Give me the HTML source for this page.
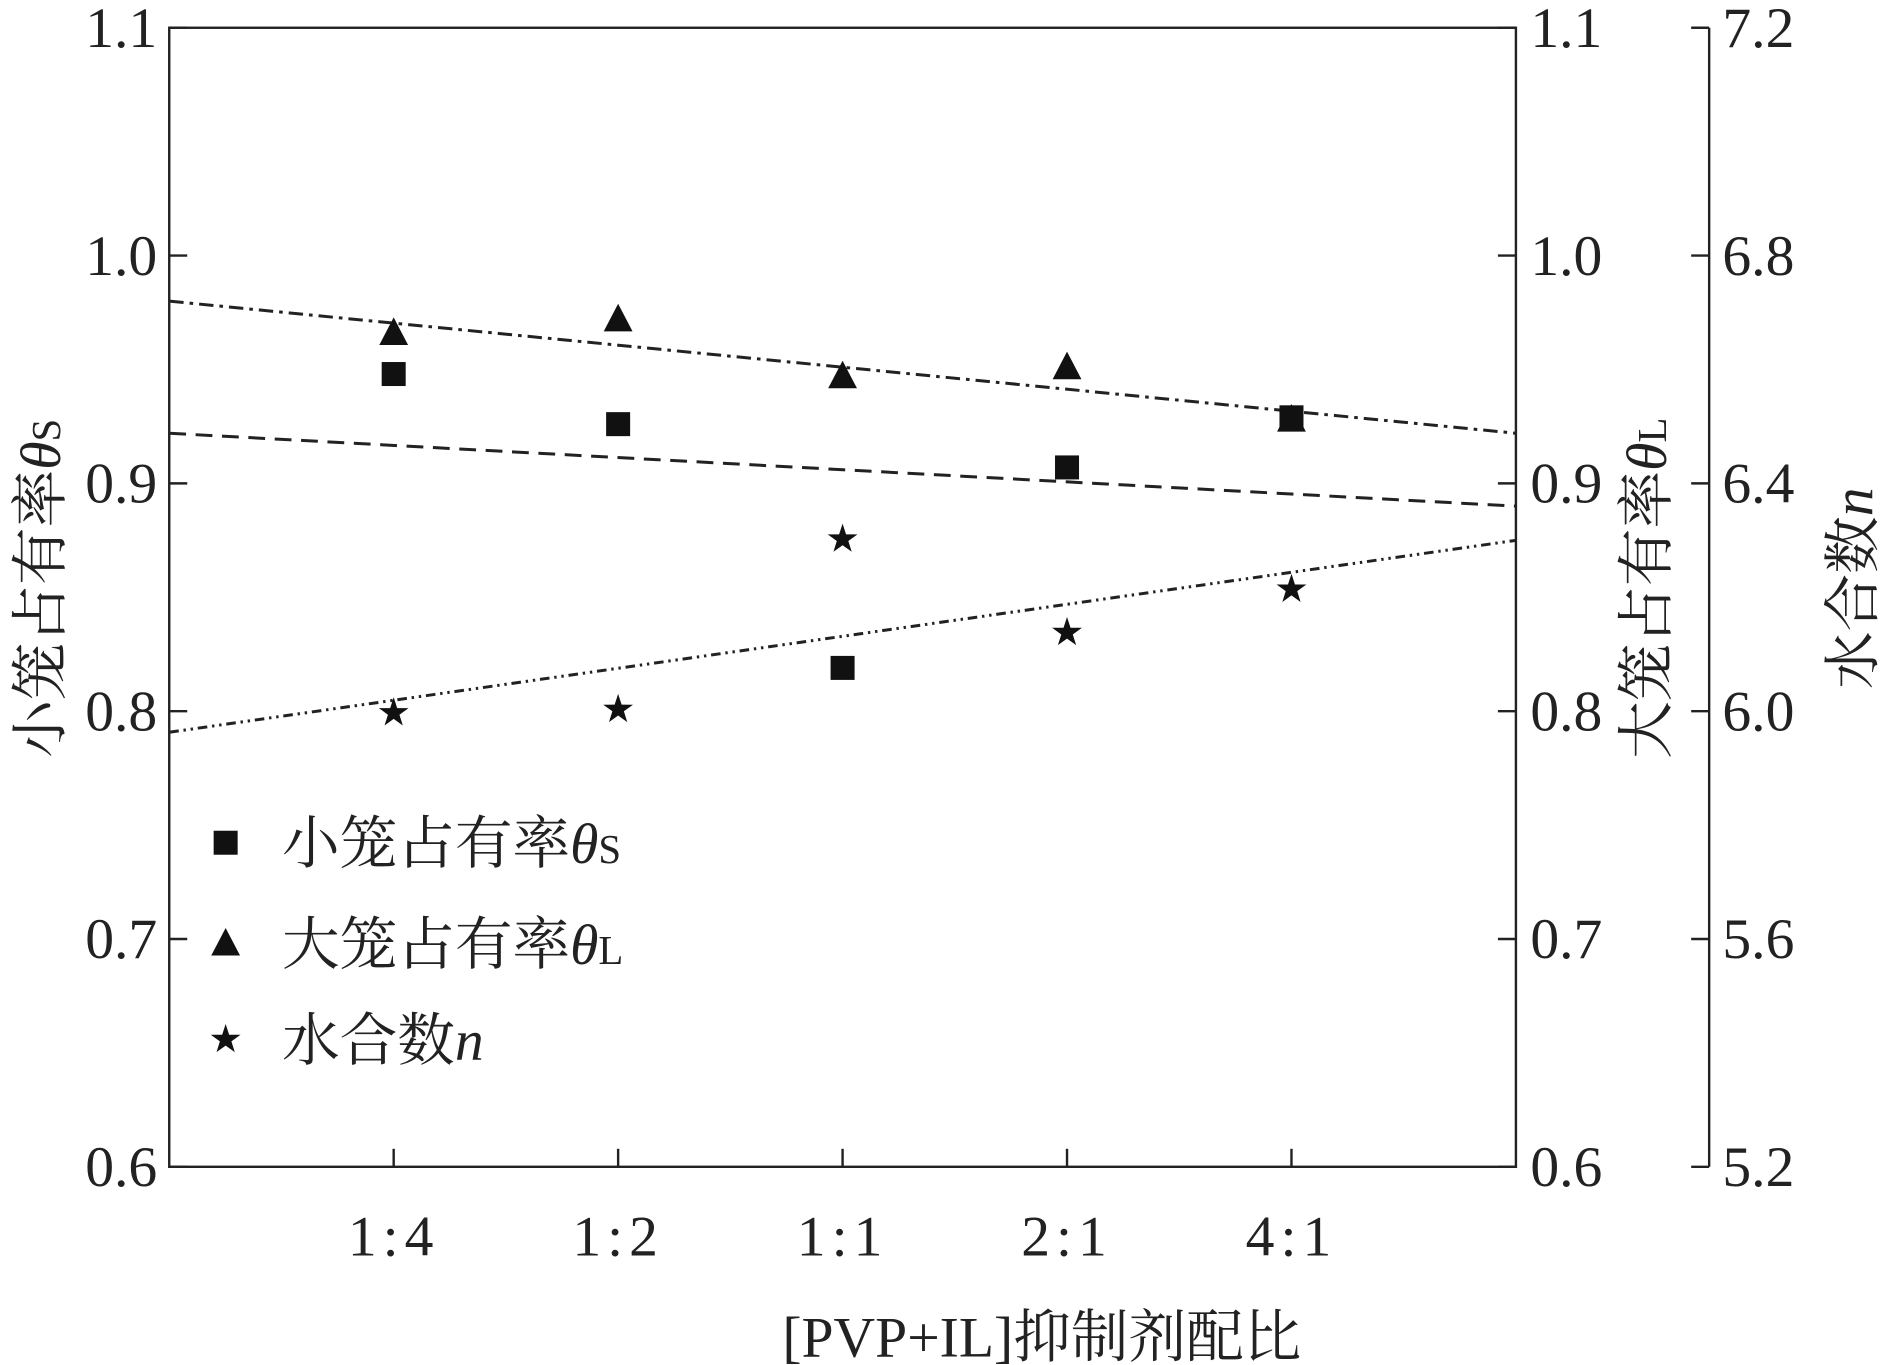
<!DOCTYPE html>
<html><head><meta charset="utf-8"><style>
html,body{margin:0;padding:0;background:#fff;}
svg{display:block;}
text{font-family:"Liberation Serif","Noto Serif CJK SC","Noto Sans CJK SC",serif;fill:#222;}
</style></head><body>
<svg id="chart" width="1882" height="1365" viewBox="0 0 1568 1137" xmlns="http://www.w3.org/2000/svg">
<g id="axes"></g>
<g id="marks"></g>
</svg>
<script>
const categories = ["1:4","1:2","1:1","2:1","4:1"];
const thetaS = [0.948,0.926,0.819,0.907,0.929];
const thetaL = [0.966,0.972,0.947,0.951,0.928];
const hydrationN = [5.997,6.003,6.302,6.138,6.214];
const fitS = [0.922,0.890];
const fitL = [0.980,0.922];
const fitN = [5.963,6.300];
const leftTicks = ["0.6","0.7","0.8","0.9","1.0","1.1"];
const nTicks = ["5.2","5.6","6.0","6.4","6.8","7.2"];

const NS="http://www.w3.org/2000/svg";
const L=141,R=1263,T=23,B=972,R2=1424;
const xs=i=>L+(R-L)*i/6;
const yL=v=>B-(v-0.6)/0.5*(B-T);
const yN=v=>B-(v-5.2)/2*(B-T);
function mk(parent,tag,attrs,txt){const e=document.createElementNS(NS,tag);for(const k in attrs)e.setAttribute(k,attrs[k]);if(txt!==undefined)e.textContent=txt;parent.appendChild(e);return e;}
const ax=document.getElementById('axes'), mg=document.getElementById('marks');
const st={stroke:"#222","stroke-width":2,fill:"none"};
let e=mk(ax,'rect',Object.assign({x:L,y:T,width:R-L,height:B-T},st));

e=mk(ax,'line',Object.assign({x1:R2,y1:T,x2:R2,y2:B},st));

leftTicks.forEach((t,i)=>{const v=parseFloat(t),y=yL(v);
 mk(ax,'line',Object.assign({x1:L,y1:y,x2:L+15,y2:y},st));
 mk(ax,'line',Object.assign({x1:R,y1:y,x2:R-15,y2:y},st));
 e=mk(ax,'text',{x:131,y:y+16,'text-anchor':'end','font-size':48},t);
 
 e=mk(ax,'text',{x:1275,y:y+16,'font-size':48},t);
 
});
nTicks.forEach(t=>{const y=yN(parseFloat(t));
 mk(ax,'line',Object.assign({x1:R2,y1:y,x2:R2-15,y2:y},st));
 e=mk(ax,'text',{x:1435,y:y+16,'font-size':48},t);
 
});
categories.forEach((c,i)=>{const x=xs(i+1);
 mk(ax,'line',Object.assign({x1:x,y1:B,x2:x,y2:B-15},st));
 e=mk(ax,'text',{x:x,y:1046,'text-anchor':'middle','font-size':48,'letter-spacing':5},c);
 
});
e=mk(ax,'text',{x:868,y:1130,'text-anchor':'middle','font-size':48},"[PVP+IL]抑制剂配比");

e=mk(ax,'text',{transform:'translate(50,490) rotate(-90)','text-anchor':'middle','font-size':48});
e.innerHTML='小笼占有率<tspan font-style="italic">θ</tspan><tspan font-size="34">S</tspan>';

e=mk(ax,'text',{transform:'translate(1388,490) rotate(-90)','text-anchor':'middle','font-size':48});
e.innerHTML='大笼占有率<tspan font-style="italic">θ</tspan><tspan font-size="34">L</tspan>';

e=mk(ax,'text',{transform:'translate(1560,490) rotate(-90)','text-anchor':'middle','font-size':48});
e.innerHTML='水合数<tspan font-style="italic">n</tspan>';


e=mk(mg,'line',{x1:xs(0),y1:yL(fitL[0]),x2:xs(6),y2:yL(fitL[1]),stroke:"#222","stroke-width":2.5,"stroke-dasharray":"12 5 3 5"});

e=mk(mg,'line',{x1:xs(0),y1:yL(fitS[0]),x2:xs(6),y2:yL(fitS[1]),stroke:"#222","stroke-width":2.5,"stroke-dasharray":"14 8"});

e=mk(mg,'line',{x1:xs(0),y1:yN(fitN[0]),x2:xs(6),y2:yN(fitN[1]),stroke:"#222","stroke-width":2.5,"stroke-dasharray":"8 4 2 4 2 4"});


function square(g,x,y){return mk(g,'rect',{x:x-10,y:y-10,width:20,height:20,fill:"#111"});}
function tri(g,x,y){return mk(g,'polygon',{points:`${x},${y-13} ${x-12},${y+10} ${x+12},${y+10}`,fill:"#111"});}
function star(g,x,y){let p=[];for(let k=0;k<10;k++){const r=k%2?5:13,a=-Math.PI/2+k*Math.PI/5;p.push((x+r*Math.cos(a)).toFixed(1)+','+(y+r*Math.sin(a)).toFixed(1));}return mk(g,'polygon',{points:p.join(' '),fill:"#111"});}
categories.forEach((c,i)=>{const x=xs(i+1);
 e=square(mg,x,yL(thetaS[i]));
 e=tri(mg,x,yL(thetaL[i]));
 e=star(mg,x,yN(hydrationN[i]));
});
e=square(mg,188,702);
e=tri(mg,188,786);
e=star(mg,188,866);
e=mk(mg,'text',{x:235,y:719,'font-size':48});e.innerHTML='小笼占有率<tspan font-style="italic">θ</tspan><tspan font-size="34">S</tspan>';

e=mk(mg,'text',{x:235,y:803,'font-size':48});e.innerHTML='大笼占有率<tspan font-style="italic">θ</tspan><tspan font-size="34">L</tspan>';

e=mk(mg,'text',{x:235,y:883,'font-size':48});e.innerHTML='水合数<tspan font-style="italic">n</tspan>';

</script>
</body></html>
